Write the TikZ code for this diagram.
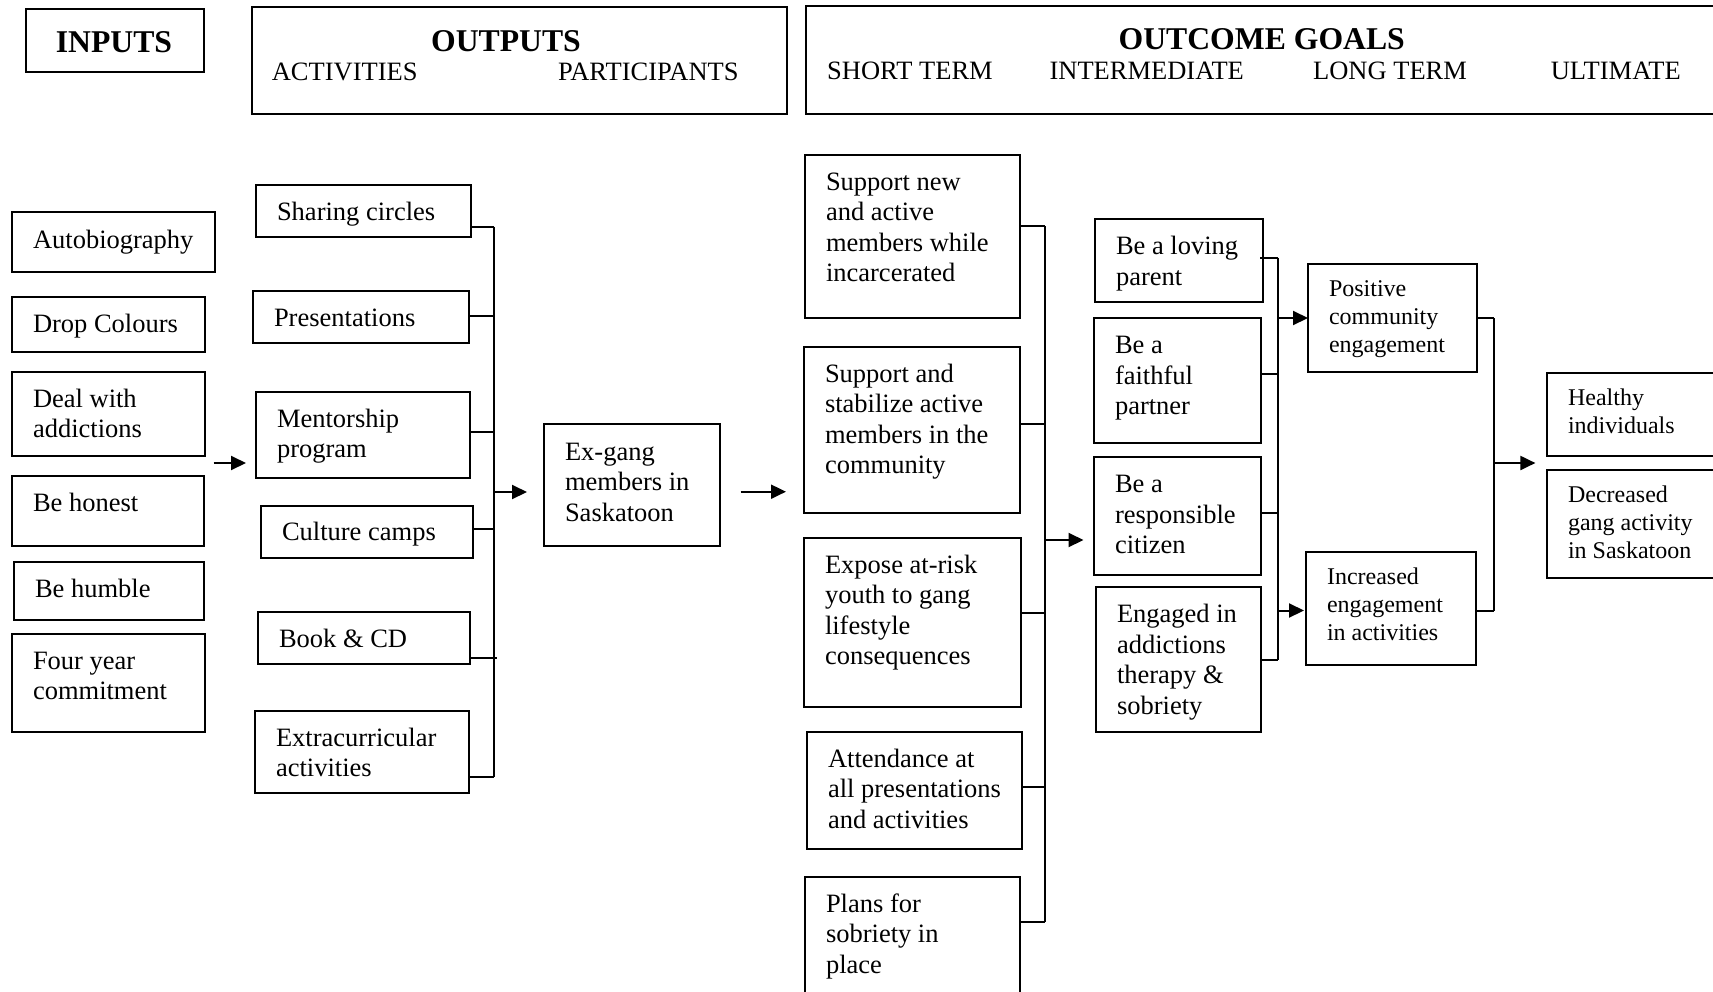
\documentclass[tikz,border=0pt]{standalone}
\usepackage{fontspec}
\setmainfont{Liberation Serif}
\usetikzlibrary{arrows.meta,calc}

\newcommand{\mainfs}{\fontsize{26.5pt}{30.5pt}\selectfont}
\newcommand{\smallfs}{\fontsize{24pt}{28pt}\selectfont}
\newcommand{\hdfont}{\fontsize{31.7pt}{36pt}\selectfont\bfseries}

% \lmbox{name}{x}{y}{w}{h}{font}{first baseline}{lines}
\newcommand{\lmbox}[8]{%
  \node[bx, anchor=north west] (#1) at (#2,#3)
   {\parbox[c][#5pt][t]{#4pt}{#6\vspace*{\dimexpr #7pt-0.7\baselineskip\relax}\hspace*{21pt}\begin{tabular}[t]{@{}l@{}}#8\end{tabular}}};}

\begin{document}
\begin{tikzpicture}[x=1pt,y=-1pt,
  bx/.style={draw, line width=2.2pt, inner sep=0pt, outer sep=0pt},
  ln/.style={line width=2pt},
  arr/.style={line width=2pt, -{Triangle[length=15pt,width=14pt]}},
  hd/.style={inner sep=0pt, anchor=base, font=\hdfont},
  sub/.style={inner sep=0pt, anchor=base, font=\mainfs}]
\useasboundingbox (0,0) rectangle (1713,991);

% ---------- header ----------
\node[bx, anchor=north west, minimum width=178.3pt, minimum height=62.4pt] (hin) at (25.7,9.3) {};
\node[bx, anchor=north west, minimum width=535pt, minimum height=106.7pt] (hout) at (251.7,7.3) {};
\node[bx, anchor=north west, minimum width=930pt, minimum height=108.6pt] (hoc) at (806,5.7) {};

\node[hd] (tin) at (114,52.7) {INPUTS};
\node[hd] (tout) at (506,51) {OUTPUTS};
\node[sub] (tact) at (344.7,80.7) {ACTIVITIES};
\node[sub] (tpart) at (648.3,80.7) {PARTICIPANTS};
\node[hd] (toc) at (1261.7,49.5) {OUTCOME GOALS};
\node[sub] (tst) at (910,79.5) {SHORT TERM};
\node[sub] (tim) at (1146.7,79) {INTERMEDIATE};
\node[sub] (tlt) at (1390,79) {LONG TERM};
\node[sub] (tul) at (1615.8,79) {ULTIMATE};

% ---------- inputs ----------
\lmbox{in1}{12}{212}{203}{60}{\mainfs}{36}{Autobiography}
\lmbox{in2}{12}{297}{193}{55}{\mainfs}{35}{Drop Colours}
\lmbox{in3}{12}{372}{193}{84}{\mainfs}{35}{Deal with\\addictions}
\lmbox{in4}{12}{476}{192}{70}{\mainfs}{35}{Be honest}
\lmbox{in5}{14}{562}{190}{58}{\mainfs}{35}{Be humble}
\lmbox{in6}{12}{634}{193}{98}{\mainfs}{35}{Four year\\commitment}

% ---------- activities ----------
\lmbox{ac1}{256}{185}{215}{52}{\mainfs}{35}{Sharing circles}
\lmbox{ac2}{253}{291}{216}{52}{\mainfs}{35}{Presentations}
\lmbox{ac3}{256}{392}{214}{86}{\mainfs}{35}{Mentorship\\program}
\lmbox{ac4}{261}{506}{212}{52}{\mainfs}{34}{Culture camps}
\lmbox{ac5}{258}{612}{212}{52}{\mainfs}{35}{Book \& CD}
\lmbox{ac6}{255}{711}{214}{82}{\mainfs}{35}{Extracurricular\\activities}

% ---------- participants ----------
\lmbox{exg}{544}{424}{176}{122}{\mainfs}{36}{Ex-gang\\members in\\Saskatoon}

% ---------- short term ----------
\lmbox{st1}{805}{155}{215}{163}{\mainfs}{35}{Support new\\and active\\members while\\incarcerated}
\lmbox{st2}{804}{347}{216}{166}{\mainfs}{35}{Support and\\stabilize active\\members in the\\community}
\lmbox{st3}{804}{538}{217}{169}{\mainfs}{35}{Expose at-risk\\youth to gang\\lifestyle\\consequences}
\lmbox{st4}{807}{732}{215}{117}{\mainfs}{35}{Attendance at\\all presentations\\and activities}
\lmbox{st5}{805}{877}{215}{140}{\mainfs}{35}{Plans for\\sobriety in\\place}

% ---------- intermediate ----------
\lmbox{im1}{1095}{219}{168}{83}{\mainfs}{35.5}{Be a loving\\parent}
\lmbox{im2}{1094}{318}{167}{125}{\mainfs}{35.5}{Be a\\faithful\\partner}
\lmbox{im3}{1094}{457}{167}{118}{\mainfs}{35.5}{Be a\\responsible\\citizen}
\lmbox{im4}{1096}{587}{165}{145}{\mainfs}{35.5}{Engaged in\\addictions\\therapy \&\\sobriety}

% ---------- long term ----------
\lmbox{lt1}{1308}{264}{169}{108}{\smallfs}{32}{Positive\\community\\engagement}
\lmbox{lt2}{1306}{552}{170}{113}{\smallfs}{32.5}{Increased\\engagement\\in activities}

% ---------- ultimate ----------
\lmbox{ul1}{1547}{373}{200}{83}{\smallfs}{32}{Healthy\\individuals}
\lmbox{ul2}{1547}{470}{200}{108}{\smallfs}{32.5}{Decreased\\gang activity\\in Saskatoon}

% ---------- bus x positions ----------
\coordinate (busA) at (494,0);
\coordinate (busB) at (1045,0);
\coordinate (busC) at (1278,0);
\coordinate (busD) at (1494,0);

% inputs -> activities
\coordinate (inS) at ($(in3.east)+(8.6,49)$);
\coordinate (inE) at ($(ac3.west)+(-10,28)$);
\draw[arr] (inS) -- (inE);

% activities -> bus A
\coordinate (a1) at ($(ac1.east)+(0,15.7)$);
\coordinate (a2) at ($(ac2.east)+(0,-1)$);
\coordinate (a3) at ($(ac3.east)+(0,-3.3)$);
\coordinate (a4) at ($(ac4.east)+(0,-3)$);
\coordinate (a5) at ($(ac5.east)+(0,19.7)$);
\coordinate (a6) at ($(ac6.east)+(0,25)$);
\foreach \c in {a1,a2,a3,a4,a6} \draw[ln] (\c) -- (\c -| busA);
\draw[ln] (a5) -- ($(a5 -| busA)+(3,0)$);
\draw[ln] (a1 -| busA) -- (a6 -| busA);
\coordinate (aArr) at ($(exg.west)+(-17,7)$);
\draw[arr] (aArr -| busA) -- (aArr);

% participants -> short term
\coordinate (pS) at ($(exg.east)+(20.7,6.7)$);
\coordinate (pE) at ($(exg.east)+(66,6.7)$);
\draw[arr] (pS) -- (pE);

% short term -> bus B
\coordinate (b1) at ($(st1.east)+(0,-10.5)$);
\coordinate (b2) at ($(st2.east)+(0,-6)$);
\coordinate (b3) at ($(st3.east)+(0,-9.2)$);
\coordinate (b4) at ($(st4.east)+(0,-3.8)$);
\coordinate (b5) at ($(st5.north east)+(0,45)$);
\foreach \c in {b1,b2,b3,b4,b5} \draw[ln] (\c) -- (\c -| busB);
\draw[ln] (b1 -| busB) -- (b5 -| busB);
\coordinate (bArr) at ($(im3.west)+(-10.5,24)$);
\draw[arr] (bArr -| busB) -- (bArr);

% intermediate -> bus C
\coordinate (c1) at ($(im1.east)+(-3,-2.8)$);
\coordinate (c2) at ($(im2.east)+(0,-6.5)$);
\coordinate (c3) at ($(im3.east)+(0,-3.3)$);
\coordinate (c4) at ($(im4.east)+(0,0.5)$);
\foreach \c in {c1,c2,c3,c4} \draw[ln] (\c) -- (\c -| busC);
\draw[ln] (c1 -| busC) -- (c4 -| busC);
\draw[arr] (lt1.west -| busC) -- (lt1.west);
\coordinate (cArr2) at ($(lt2.west)+(-2,2)$);
\draw[arr] (cArr2 -| busC) -- (cArr2);

% long term -> bus D
\coordinate (d1) at (lt1.east);
\coordinate (d2) at ($(lt2.east)+(0,2)$);
\foreach \c in {d1,d2} \draw[ln] (\c) -- (\c -| busD);
\draw[ln] (d1 -| busD) -- (d2 -| busD);
\coordinate (dArr) at ($($(ul1.south west)!0.5!(ul2.north west)$)+(-11.6,0)$);
\draw[arr] (dArr -| busD) -- (dArr);
\end{tikzpicture}
\end{document}
